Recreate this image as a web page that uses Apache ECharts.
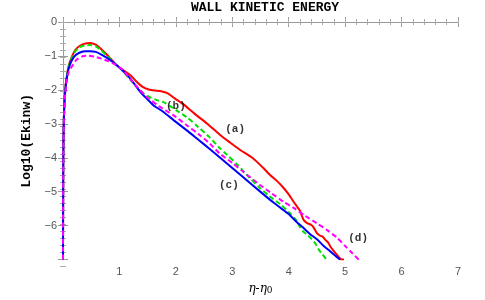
<!DOCTYPE html>
<html><head><meta charset="utf-8">
<script src="https://cdn.jsdelivr.net/npm/echarts@6/dist/echarts.min.js"></script>
<style>html,body{margin:0;padding:0;background:#fff}#c{width:485px;height:300px}</style>
</head><body><div id="c"></div>
<script>
const title = 'WALL KINETIC ENERGY';
const yName = 'Log10(Ekinw)';
const xTicks = [1,2,3,4,5,6,7];
const yTicks = [0,-1,-2,-3,-4,-5,-6];
const seriesA = [[0,-7],[0.003,-5],[0.008,-3.5],[0.02,-2.6],[0.04,-2.0],[0.065,-1.62],[0.1,-1.3],[0.15,-1.05],[0.22,-0.82],[0.3,-0.7],[0.38,-0.64],[0.48,-0.62],[0.58,-0.67],[0.68,-0.8],[0.8,-1.0],[0.92,-1.22],[1.05,-1.4],[1.19,-1.56],[1.3,-1.75],[1.42,-1.92],[1.52,-1.99],[1.62,-2.02],[1.72,-2.03],[1.84,-2.09],[1.98,-2.25],[2.13,-2.42],[2.33,-2.7],[2.55,-2.99],[2.78,-3.32],[2.96,-3.55],[3.14,-3.77],[3.37,-4.02],[3.55,-4.3],[3.67,-4.51],[3.79,-4.68],[3.91,-4.89],[4.0,-5.08],[4.08,-5.28],[4.14,-5.42],[4.2,-5.56],[4.26,-5.82],[4.32,-5.92],[4.4,-5.98],[4.44,-6.05],[4.5,-6.22],[4.55,-6.29],[4.6,-6.32],[4.65,-6.42],[4.7,-6.5],[4.74,-6.62],[4.8,-6.75],[4.85,-6.85],[4.9,-6.95],[4.94,-7],[4.98,-7]];
const seriesB = [[0,-7],[0.003,-5],[0.008,-3.5],[0.02,-2.6],[0.04,-2.0],[0.065,-1.64],[0.1,-1.32],[0.15,-1.08],[0.22,-0.86],[0.3,-0.74],[0.38,-0.69],[0.48,-0.68],[0.58,-0.72],[0.68,-0.84],[0.8,-1.03],[0.92,-1.23],[1.05,-1.42],[1.19,-1.7],[1.3,-1.9],[1.42,-2.09],[1.55,-2.22],[1.66,-2.3],[1.78,-2.36],[1.9,-2.48],[2.05,-2.65],[2.19,-2.8],[2.4,-3.1],[2.6,-3.4],[2.78,-3.72],[2.9,-3.9],[3.1,-4.22],[3.3,-4.58],[3.49,-4.89],[3.65,-5.12],[3.85,-5.37],[4.0,-5.6],[4.14,-5.85],[4.2,-6.05],[4.26,-6.18],[4.33,-6.27],[4.41,-6.4],[4.47,-6.52],[4.53,-6.7],[4.6,-6.85],[4.67,-7]];
const seriesC = [[0,-7],[0.003,-5],[0.008,-3.5],[0.02,-2.6],[0.04,-2.02],[0.065,-1.68],[0.1,-1.38],[0.15,-1.15],[0.22,-0.98],[0.3,-0.9],[0.4,-0.86],[0.48,-0.86],[0.58,-0.88],[0.68,-0.96],[0.8,-1.08],[0.92,-1.23],[1.05,-1.42],[1.19,-1.66],[1.37,-2.06],[1.48,-2.25],[1.6,-2.45],[1.78,-2.65],[1.96,-2.89],[2.2,-3.2],[2.4,-3.47],[2.6,-3.74],[2.78,-3.99],[3.0,-4.3],[3.2,-4.58],[3.49,-4.99],[3.73,-5.32],[3.85,-5.47],[4.0,-5.66],[4.14,-5.89],[4.25,-6.05],[4.38,-6.25],[4.5,-6.4],[4.62,-6.6],[4.73,-6.75],[4.85,-6.92],[4.91,-7]];
const seriesD = [[0,-7],[0.003,-5],[0.008,-3.5],[0.02,-2.7],[0.04,-2.1],[0.065,-1.75],[0.1,-1.48],[0.18,-1.25],[0.25,-1.1],[0.35,-1.01],[0.45,-0.99],[0.55,-1.02],[0.68,-1.08],[0.8,-1.15],[0.92,-1.25],[1.05,-1.4],[1.2,-1.7],[1.35,-1.98],[1.48,-2.2],[1.7,-2.48],[1.96,-2.75],[2.2,-3.05],[2.4,-3.3],[2.6,-3.58],[2.78,-3.88],[3.0,-4.15],[3.2,-4.42],[3.49,-4.8],[3.7,-5.05],[3.91,-5.3],[4.08,-5.47],[4.3,-5.72],[4.5,-5.93],[4.68,-6.13],[4.85,-6.35],[5.0,-6.6],[5.12,-6.8],[5.24,-7]];
const curveLabels = ['(a)','(b)','(c)','(d)'];
const labelPos = [[3.05,-3.17],[2.0,-2.49],[2.94,-4.8],[5.23,-6.37]];

const chart = echarts.init(document.getElementById('c'), null, {renderer:'canvas'});
const axisLine = {show:true, lineStyle:{color:'#999', width:1}};
const tickIn = {show:true, inside:true, length:5, lineStyle:{color:'#999'}};
const minorTickIn = {show:true, inside:true, length:3, lineStyle:{color:'#aaa'}};
const mono = '"Liberation Mono","DejaVu Sans Mono",monospace';
const gridRect = {left:63, right:27, top:22, bottom:34};
function lineSeries(data, color, dashed){
  return {type:'line', data, showSymbol:false, smooth:0.25, clip:true,
    lineStyle:{color, width:2, type: dashed ? [5,3] : 'solid'}, z: 2};
}
function minorAxis(grid, position, min, max){
  return {type:'value', gridIndex:grid, min, max, interval:0.2, position,
    axisLine:{show:false}, axisTick:minorTickIn, splitLine:{show:false}, axisLabel:{show:false}};
}
chart.setOption({
  animation:false,
  title:{text:title, left:260, top:-4, textAlign:'center',
    textStyle:{fontFamily:mono, fontWeight:'bold', fontSize:13, color:'#000'}},
  grid:[Object.assign({}, gridRect), Object.assign({}, gridRect)],
  xAxis:[
    {type:'value', min:0, max:7, interval:1, position:'bottom',
     axisLine, axisTick:tickIn, splitLine:{show:false},
     axisLabel:{color:'#555', fontSize:11, fontFamily:'"Liberation Sans",sans-serif', margin:7,
       formatter:v => xTicks.includes(v) ? String(v) : ''},
     name:'{a|η-η}{s|0}', nameLocation:'middle', nameGap:21,
     nameTextStyle:{rich:{a:{fontStyle:'italic', fontSize:12, fontFamily:'"DejaVu Serif",serif', color:'#000'},
                          s:{fontSize:9, fontFamily:'"DejaVu Serif",serif', color:'#000', padding:[4,0,0,0]}}}},
    {type:'value', min:0, max:7, interval:1, position:'top',
     axisLine, axisTick:tickIn, splitLine:{show:false}, axisLabel:{show:false}},
    minorAxis(1, 'bottom', 0, 7),
    minorAxis(1, 'top', 0, 7)
  ],
  yAxis:[
    {type:'value', min:-7, max:0, interval:1, position:'left',
     axisLine, axisTick:tickIn, splitLine:{show:false},
     axisLabel:{color:'#555', fontSize:11, fontFamily:'"Liberation Sans",sans-serif', margin:6,
       formatter:v => yTicks.includes(v) ? (v<0 ? '\u2212' + Math.abs(v) : String(v)) : ''},
     name:yName, nameLocation:'middle', nameGap:27, nameRotate:90,
     nameTextStyle:{fontFamily:mono, fontWeight:'bold', fontSize:13, color:'#000'}},
    {type:'value', min:-7, max:0, interval:1, position:'right',
     axisLine, axisTick:tickIn, splitLine:{show:false}, axisLabel:{show:false}},
    minorAxis(1, 'left', -7, 0),
    minorAxis(1, 'right', -7, 0)
  ],
  series:[
    lineSeries(seriesA, '#ff0000', false),
    lineSeries(seriesB, '#00e000', true),
    lineSeries(seriesC, '#0000ff', false),
    lineSeries(seriesD, '#ff00ff', true),
    {type:'scatter', symbolSize:0, z:5,
     data: labelPos.map((p,i)=>({value:p, name:curveLabels[i]})),
     label:{show:true, position:'inside', formatter:p=>p.name,
       fontFamily:mono, fontWeight:'bold', fontSize:11, color:'#000'}}
  ]
});
</script></body></html>
